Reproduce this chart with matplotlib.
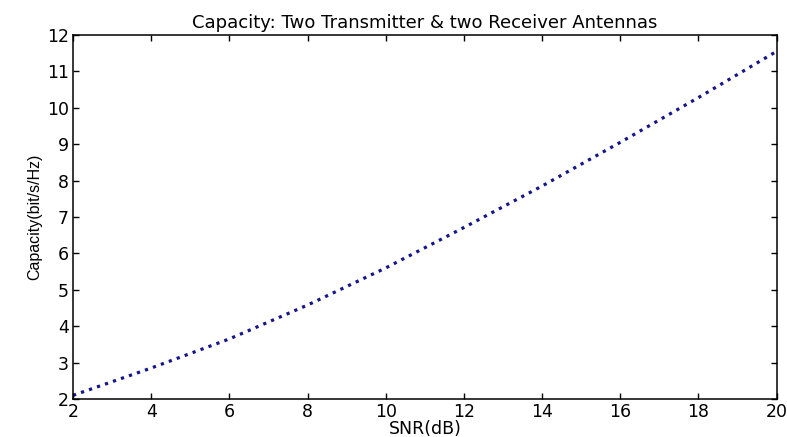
import matplotlib
matplotlib.use("Agg")
import matplotlib.pyplot as plt

snr_db = [2, 4, 6, 8, 10, 12, 14, 16, 18, 20]
capacity = [2.10, 2.85, 3.65, 4.58, 5.60, 6.71, 7.85, 9.05, 10.28, 11.55]

plt.rcParams['font.family'] = ['DejaVu Sans']

fig = plt.figure(figsize=(7.87, 4.37), dpi=100)
ax = fig.add_axes([0.0928, 0.087, 0.894, 0.833])
ax.plot(snr_db, capacity, linestyle=':', color='#14148c', linewidth=2.3)
ax.set_xlim(2, 20)
ax.set_ylim(2, 12)
ax.set_xticks(range(2, 21, 2))
ax.set_yticks(range(2, 13, 1))
ax.tick_params(direction='in', top=True, right=True, labelsize=12.5, length=4, width=1, pad=3, colors='black')
for s in ax.spines.values():
    s.set_linewidth(1.1)
ax.set_title('Capacity: Two Transmitter & two Receiver Antennas', fontsize=13, pad=5)
ax.set_xlabel('SNR(dB)', fontsize=12.5, labelpad=-1)
ax.set_ylabel('Capacity(bit/s/Hz)', fontsize=11.5, labelpad=3,
              family=['Liberation Sans', 'DejaVu Sans'])
fig.savefig('out.png', dpi=100)
